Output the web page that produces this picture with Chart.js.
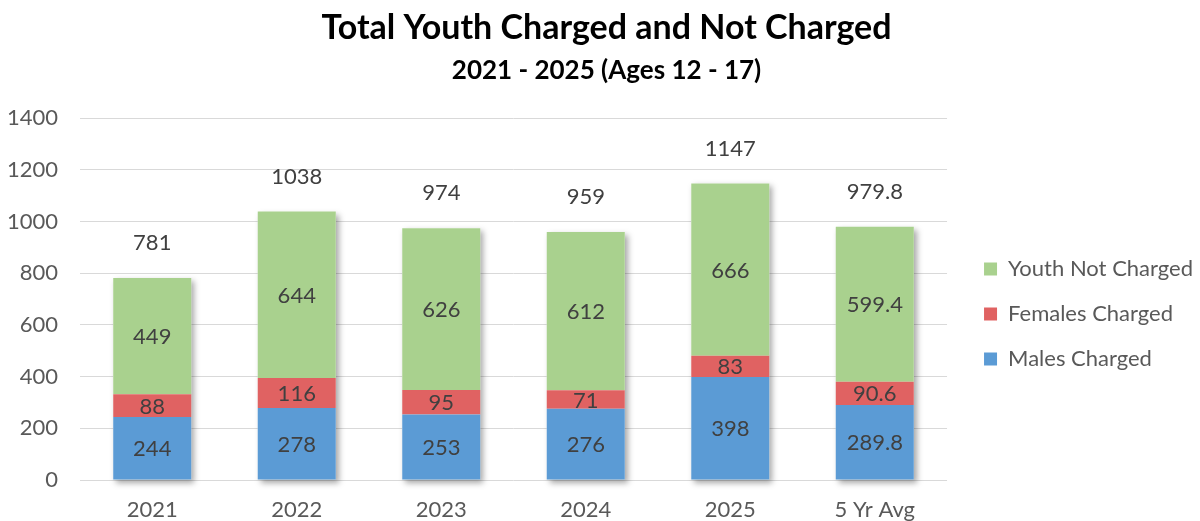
<!DOCTYPE html>
<html>
<head>
<meta charset="utf-8">
<title>Total Youth Charged and Not Charged</title>
<script src="https://cdn.jsdelivr.net/npm/chart.js@4/dist/chart.umd.min.js"></script>
<style>
  html, body { margin: 0; padding: 0; background: #fff; }
  #wrap { width: 1200px; height: 521px; }
</style>
</head>
<body>
<div id="wrap"><canvas id="youthChart"></canvas></div>
<script>
// Chart data
const categories = ['2021', '2022', '2023', '2024', '2025', '5 Yr Avg'];
const malesCharged = [244, 278, 253, 276, 398, 289.8];
const femalesCharged = [88, 116, 95, 71, 83, 90.6];
const youthNotCharged = [449, 644, 626, 612, 666, 599.4];
const yTicks = [0, 200, 400, 600, 800, 1000, 1200, 1400];

const FONT = 'Lato, "Open Sans", sans-serif';
const TEXT = '#595959';
const LABEL = '#404040';

function fmt(v) {
  return Number.isInteger(v) ? String(v) : v.toFixed(1);
}

// Soft shadow behind each stacked column
const barShadow = {
  id: 'barShadow',
  beforeDatasetsDraw(chart) {
    const ctx = chart.ctx;
    const top = chart.getDatasetMeta(2).data;
    const bottom = chart.getDatasetMeta(0).data;
    ctx.save();
    ctx.shadowColor = 'rgba(0, 0, 0, 0.35)';
    ctx.shadowBlur = 6;
    ctx.shadowOffsetX = 3;
    ctx.shadowOffsetY = 3;
    ctx.fillStyle = '#ffffff';
    top.forEach((bar, i) => {
      const w = bar.width;
      ctx.fillRect(bar.x - w / 2, bar.y, w, bottom[i].base - bar.y);
    });
    ctx.restore();
  }
};

// Segment values and stack totals
const valueLabels = {
  id: 'valueLabels',
  afterDatasetsDraw(chart) {
    const ctx = chart.ctx;
    ctx.save();
    ctx.font = '22px ' + FONT;
    ctx.fillStyle = LABEL;
    ctx.textAlign = 'center';
    ctx.textBaseline = 'middle';
    chart.data.datasets.forEach((ds, d) => {
      chart.getDatasetMeta(d).data.forEach((bar, i) => {
        ctx.fillText(fmt(ds.data[i]), bar.x, (bar.y + bar.base) / 2 + 1);
      });
    });
    const top = chart.getDatasetMeta(2).data;
    top.forEach((bar, i) => {
      const total = malesCharged[i] + femalesCharged[i] + youthNotCharged[i];
      ctx.fillText(fmt(Math.round(total * 10) / 10), bar.x, bar.y - 35);
    });
    ctx.restore();
  }
};

// Nudge legend lower / further right, and centre the titles like the original
const placeBoxes = {
  id: 'placeBoxes',
  afterLayout(chart) {
    const lg = chart.legend;
    const h = lg.bottom - lg.top;
    lg.top = 235;
    lg.bottom = lg.top + h;
    lg.left += 14;
    lg.right += 14;
    chart.boxes.forEach(b => {
      if (b.position === 'top' && b.options && b.options.text) {
        b.left += 11;
        b.right += 11;
      }
    });
  }
};

const ctx = document.getElementById('youthChart');
new Chart(ctx, {
  type: 'bar',
  data: {
    labels: categories,
    datasets: [
      { label: 'Males Charged', data: malesCharged, backgroundColor: '#5b9bd5' },
      { label: 'Females Charged', data: femalesCharged, backgroundColor: '#e06262' },
      { label: 'Youth Not Charged', data: youthNotCharged, backgroundColor: '#a9d18e' }
    ]
  },
  options: {
    responsive: true,
    maintainAspectRatio: false,
    animation: false,
    barPercentage: 0.54,
    categoryPercentage: 1,
    layout: { padding: { left: 2, right: 11, top: 0, bottom: 0 } },
    plugins: {
      title: {
        display: true,
        text: 'Total Youth Charged and Not Charged',
        color: '#000',
        font: { family: FONT, size: 34, weight: 'bold' },
        padding: { top: 8, bottom: 6 }
      },
      subtitle: {
        display: true,
        text: '2021 - 2025 (Ages 12 - 17)',
        color: '#000',
        font: { family: FONT, size: 26, weight: 'bold' },
        padding: { bottom: 32 }
      },
      legend: {
        position: 'right',
        reverse: true,
        align: 'start',
        labels: {
          boxWidth: 13,
          boxHeight: 13,
          padding: 23,
          color: TEXT,
          font: { family: FONT, size: 22 }
        }
      },
      tooltip: { enabled: false }
    },
    scales: {
      x: {
        stacked: true,
        grid: { display: false, drawTicks: false },
        border: { display: false },
        ticks: { color: TEXT, font: { family: FONT, size: 22 }, padding: 17 },
        afterFit(axis) { axis.height = 41; }
      },
      y: {
        stacked: true,
        min: 0,
        max: 1400,
        afterBuildTicks(axis) {
          axis.ticks = yTicks.map(v => ({ value: v }));
        },
        grid: { color: '#d9d9d9', drawTicks: false },
        border: { display: false },
        ticks: {
          color: TEXT,
          font: { family: FONT, size: 22 },
          padding: 22,
          callback: v => String(v)
        },
        afterFit(axis) { axis.width = 78; }
      }
    }
  },
  plugins: [barShadow, valueLabels, placeBoxes]
});
</script>
</body>
</html>
